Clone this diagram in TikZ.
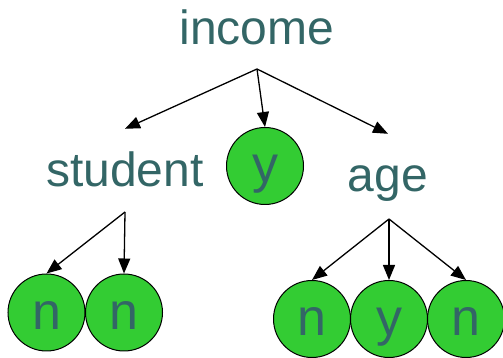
\documentclass[tikz,border=0pt]{standalone}
\usepackage{fontspec}
\setmainfont{Liberation Sans}
\usepackage{tikz}
\usetikzlibrary{arrows.meta, positioning}

\definecolor{labelteal}{HTML}{336666}
\definecolor{leafgreen}{HTML}{33CC33}

\tikzset{
    attr/.style={anchor=base, inner sep=0pt, text height=58pt, text depth=0pt,
        text=labelteal, font=\fontsize{48}{50}\selectfont},
    leaf/.style={circle, draw=black, line width=1pt, fill=leafgreen, inner sep=0pt,
        minimum size=77pt, text height=34pt, text depth=0pt,
        text=labelteal, font=\fontsize{52}{54}\selectfont},
    branch/.style={-{Triangle[length=15pt,width=12pt]}, line width=1.3pt, black}
}

\begin{document}
\begin{tikzpicture}[x=1pt, y=1pt]
    \useasboundingbox (0,0) rectangle (503,358);

    % Attribute labels
    \node[attr] (income) at (257,313) {income};
    \node[attr] (student) at (125,171) {student};
    \node[attr] (age) at (388,166) {age};

    % Leaves
    \node[leaf] (incomeyes) at (265,192) {y};
    \node[leaf] (studentno1) at (46.5,45.5) {n};
    \node[leaf] (studentno2) at (124,45.5) {n};
    \node[leaf] (ageno1) at (312,39) {n};
    \node[leaf] (ageyes) at (389,39) {y};
    \node[leaf] (ageno2) at (466,39) {n};

    % Fork points under each label
    \coordinate[below=24pt of income.base] (incomefork);
    \coordinate[below=25pt of student.base] (studentfork);
    \coordinate[below=27pt of age.base, xshift=1pt] (agefork);

    % Branches
    \draw[branch] (incomefork) -- (student.north);
    \draw[branch] (incomefork) -- (incomeyes.north);
    \draw[branch] (incomefork) -- (age.north);

    \draw[branch] (studentfork) -- (studentno1.north);
    \draw[branch] (studentfork) -- (studentno2.north);

    \foreach \leafname in {ageno1, ageyes, ageno2} {
        \draw[branch] (agefork) -- (\leafname.north);
    }
\end{tikzpicture}
\end{document}
